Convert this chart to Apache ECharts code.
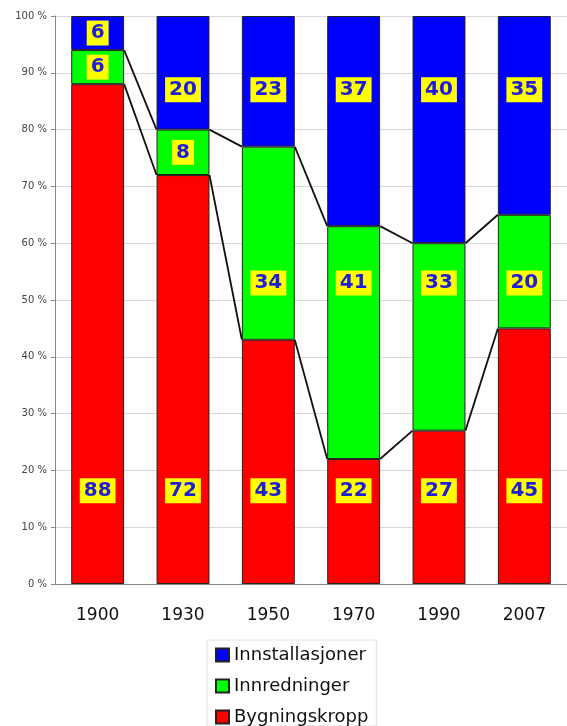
<!DOCTYPE html>
<html>
<head>
<meta charset="utf-8">
<style>
  * { margin: 0; padding: 0; }
  body { background: #fff; }
</style>
<script src="https://cdn.jsdelivr.net/npm/echarts@6/dist/echarts.min.js"></script>
</head>
<body>
<div id="chart" style="width: 567px;height: 726px;"></div>
<script type="text/javascript">
  // data (percent of building)
  const years = ['1900', '1930', '1950', '1970', '1990', '2007']
  const bygningskropp = [88, 72, 43, 22, 27, 45]
  const innredninger = [6, 8, 34, 41, 33, 20]
  const innstallasjoner = [6, 20, 23, 37, 40, 35]
  const yTicks = [0, 10, 20, 30, 40, 50, 60, 70, 80, 90, 100]

  // preferred label heights per series (falls back to segment centre when it doesn't fit)
  const labelTarget = {red: 16.4, green: 53, blue: 87}
  const labelHalf = 2.7
  const barRatio = 0.62

  function withLabels(values, base, target) {
    return values.map(function (v, i) {
      let lo = base[i]
      let hi = lo + v
      let t = (target - labelHalf >= lo && target + labelHalf <= hi) ? target : (lo + hi) / 2
      let frac = (hi - t) / v * 100
      return {
        value: v,
        label: {position: ['50%', frac + '%']}
      }
    })
  }

  const zeros = years.map(function () { return 0 })
  const redTop = bygningskropp.slice()
  const greenTop = bygningskropp.map(function (v, i) { return v + innredninger[i] })

  // series lines between neighbouring bars (top of red and top of green)
  let seriesLines = []
  for (let i = 0; i < years.length - 1; i++) {
    seriesLines.push([i, redTop[i], redTop[i + 1]])
    seriesLines.push([i, greenTop[i], greenTop[i + 1]])
  }

  const labelStyle = {
    show: true,
    align: 'center',
    verticalAlign: 'middle',
    color: '#1f1fd8',
    fontFamily: 'DejaVu Sans',
    fontWeight: 'bold',
    fontSize: 20,
    backgroundColor: '#ffff00',
    padding: [3, 4, 2, 4]
  }

  let myChart = echarts.init(document.getElementById('chart'))
  myChart.setOption({
    animation: false,
    backgroundColor: '#fff',
    grid: {
      left: 55,
      right: -5,
      top: 16,
      bottom: 142
    },
    legend: {
      orient: 'vertical',
      left: 207,
      top: 640,
      padding: [6, 8, 0, 8],
      borderColor: '#e2e2e2',
      borderWidth: 1,
      itemWidth: 13,
      itemHeight: 13,
      itemGap: 13,
      icon: 'rect',
      textStyle: {
        fontFamily: 'DejaVu Sans',
        fontSize: 18,
        lineHeight: 18,
        color: '#111'
      },
      data: ['Innstallasjoner', 'Innredninger', 'Bygningskropp']
    },
    xAxis: {
      type: 'category',
      data: years,
      axisLine: {lineStyle: {color: '#888', width: 1}},
      axisTick: {show: false},
      axisLabel: {
        margin: 23,
        fontFamily: 'DejaVu Sans',
        fontSize: 17,
        color: '#111'
      }
    },
    yAxis: {
      type: 'value',
      min: yTicks[0],
      max: yTicks[yTicks.length - 1],
      interval: 10,
      axisLine: {show: true, lineStyle: {color: '#888', width: 1}},
      axisTick: {show: true, length: 4, lineStyle: {color: '#888'}},
      splitLine: {lineStyle: {color: '#d8d8d8', width: 1}},
      axisLabel: {
        formatter: '{value} %',
        margin: 8,
        fontFamily: 'DejaVu Sans',
        fontSize: 10,
        color: '#444'
      }
    },
    series: [
      {
        name: 'Bygningskropp',
        type: 'bar',
        stack: 'total',
        barCategoryGap: '38%',
        itemStyle: {color: '#ff0000', borderColor: '#222', borderWidth: 1},
        label: labelStyle,
        data: withLabels(bygningskropp, zeros, labelTarget.red)
      },
      {
        name: 'Innredninger',
        type: 'bar',
        stack: 'total',
        itemStyle: {color: '#00ff00', borderColor: '#222', borderWidth: 1},
        label: labelStyle,
        data: withLabels(innredninger, redTop, labelTarget.green)
      },
      {
        name: 'Innstallasjoner',
        type: 'bar',
        stack: 'total',
        itemStyle: {color: '#0000ff', borderColor: '#222', borderWidth: 1},
        label: labelStyle,
        data: withLabels(innstallasjoner, greenTop, labelTarget.blue)
      },
      {
        name: 'serieslines',
        type: 'custom',
        z: 5,
        silent: true,
        data: seriesLines,
        renderItem: function (params, api) {
          let i = api.value(0)
          let p1 = api.coord([i, api.value(1)])
          let p2 = api.coord([i + 1, api.value(2)])
          let half = api.size([1, 0])[0] * barRatio / 2
          return {
            type: 'line',
            shape: {x1: p1[0] + half, y1: p1[1], x2: p2[0] - half, y2: p2[1]},
            style: {stroke: '#111', lineWidth: 1.8}
          }
        }
      }
    ]
  })
</script>
</body>
</html>
